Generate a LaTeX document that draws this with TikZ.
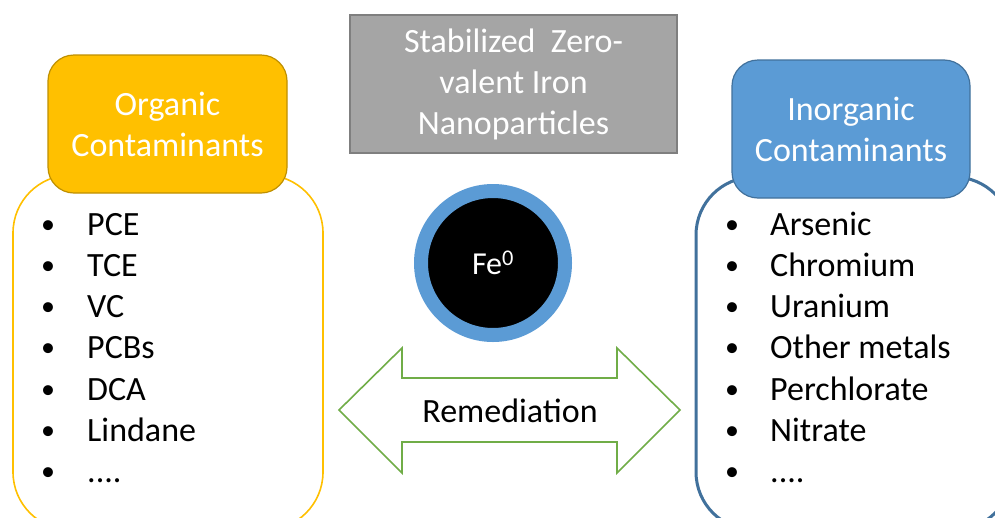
\documentclass[tikz,border=0pt]{standalone}
\usepackage{fontspec}
\setmainfont{Carlito}
\definecolor{orgfill}{HTML}{FFC000}
\definecolor{orgline}{HTML}{BF9000}
\definecolor{inofill}{HTML}{5B9BD5}
\definecolor{inoline}{HTML}{41719C}
\definecolor{grayfill}{HTML}{A5A5A5}
\definecolor{grayline}{HTML}{7F7F7F}
\definecolor{arrgreen}{HTML}{70AD47}
\newcommand\myfourdots{....}
\tikzset{
  header/.style={draw, line width=1.2pt, rounded corners=26pt, inner sep=0pt,
    align=center, text=white, font=\fontsize{34}{41}\selectfont},
  item/.style={anchor=base west, inner sep=0pt, font=\fontsize{34}{41}\selectfont},
  bul/.style={anchor=base, inner sep=0pt, font=\fontsize{28}{41}\selectfont},
}
\begin{document}
\begin{tikzpicture}[x=1pt,y=-1pt]
\useasboundingbox (0,0) rectangle (995,517);
\clip (0,0) rectangle (995,517);
\fill[white] (0,0) rectangle (995,517);
% list boxes
\draw[orgfill, line width=1.6pt, rounded corners=58pt] (13,175) rectangle (323,530);
\draw[inoline, line width=3pt, rounded corners=58pt] (696,177) rectangle (1012,530);
% headers
\node[header, fill=orgfill, draw=orgline, minimum width=239pt, minimum height=138pt]
  (org) at (167.5,124) {Organic\\Contaminants};
\node[header, fill=inofill, draw=inoline, minimum width=238pt, minimum height=138pt]
  (ino) at (851,129) {Inorganic\\Contaminants};
\node[draw=grayline, fill=grayfill, line width=1.2pt, inner sep=0pt, align=center,
  text=white, font=\fontsize{34}{41}\selectfont, minimum width=327pt, minimum height=138pt]
  (szvi) at (513.5,84) {Stabilized\ \ Zero-\\valent Iron\\Nanoparticles};
% left list
\foreach \t [count=\i] in {PCE,TCE,VC,PCBs,DCA,Lindane,\myfourdots}{
  \node[bul] (lb\i) at (48,{233+41.3*(\i-1)}) {•};
  \node[item] (li\i) at (87,{235+41.3*(\i-1)}) {\t};
}
% right list
\foreach \t [count=\i] in {Arsenic,Chromium,Uranium,Other metals,Perchlorate,Nitrate,\myfourdots}{
  \node[bul] (rb\i) at (732,{233+41.3*(\i-1)}) {•};
  \node[item] (ri\i) at (770,{235+41.3*(\i-1)}) {\t};
}
% particle
\node[circle, fill=black, draw=inofill, line width=14pt, minimum size=144pt, inner sep=0pt,
  text=white, font=\fontsize{32}{38}\selectfont] (fe) at (493,263) {Fe\textsuperscript{0}};
% arrow
\draw[arrgreen, line width=1.6pt, line join=miter]
  (339,410) -- (402,348) -- (402,378) -- (617,378) -- (617,348) -- (680,410)
  -- (617,473) -- (617,442) -- (402,442) -- (402,473) -- cycle;
\node[font=\fontsize{34}{40}\selectfont, inner sep=0pt] (rem) at (510,411) {Remediation};
\end{tikzpicture}
\end{document}
